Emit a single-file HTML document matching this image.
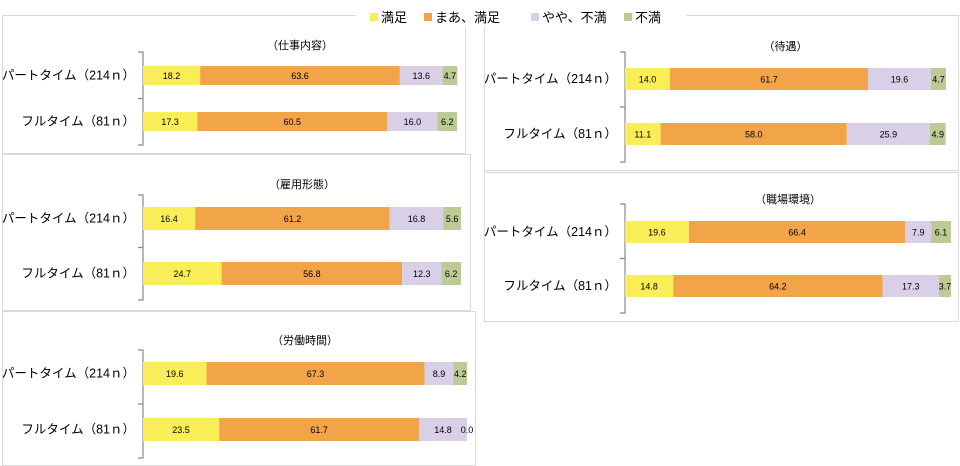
<!DOCTYPE html>
<html><head><meta charset="utf-8"><style>
body{margin:0;background:#fff;width:960px;height:466px;overflow:hidden;font-family:"Liberation Sans","Noto Sans CJK JP",sans-serif;}
svg{position:absolute;left:0;top:0}
</style></head><body>
<svg id="chart" width="960" height="466"></svg>
<script>
const categories=["パートタイム（214ｎ）","フルタイム（81ｎ）"];
const seriesNames=["満足","まあ、満足","やや、不満","不満"];
const colors=["#f9ee58","#f2a548","#d9cfe6","#bccb96"];
const titles=["（仕事内容）","（待遇）","（雇用形態）","（職場環境）","（労働時間）"];
const vSigoto=[[18.2,63.6,13.6,4.7],[17.3,60.5,16.0,6.2]];
const vTaigu=[[14.0,61.7,19.6,4.7],[11.1,58.0,25.9,4.9]];
const vKoyou=[[16.4,61.2,16.8,5.6],[24.7,56.8,12.3,6.2]];
const vShokuba=[[19.6,66.4,7.9,6.1],[14.8,64.2,17.3,3.7]];
const vRoudou=[[19.6,67.3,8.9,4.2],[23.5,61.7,14.8,0.0]];
const datasets=[vSigoto,vTaigu,vKoyou,vShokuba,vRoudou];
// layout (not data)
const panels=[
 {x:2,y:15,w:463,h:138,ax:143,aw:314,ty:45,by:[66,112],bh:19,at:52,ab:145},
 {x:484,y:15,w:474,h:155,ax:625,aw:321,ty:46,by:[68,123],bh:22,at:52,ab:162},
 {x:2,y:154,w:468,h:156,ax:143,aw:318,ty:184,by:[207,262],bh:23,at:195,ab:300},
 {x:484,y:172,w:474,h:149,ax:625,aw:326,ty:199,by:[221,275],bh:22,at:204,ab:313},
 {x:2,y:311,w:473,h:154,ax:143,aw:324,ty:340,by:[362,418],bh:23,at:350,ab:458}
];
const svg=document.getElementById('chart');
const NS="http://www.w3.org/2000/svg";
function mk(t,a,p){const e=document.createElementNS(NS,t);for(const k in a)e.setAttribute(k,a[k]);(p||svg).appendChild(e);return e;}
panels.forEach((p,i)=>{
 const g=mk('g',{});
 
 
 const r=mk('rect',{x:p.x+0.5,y:p.y+0.5,width:p.w,height:p.h,fill:'#fff',stroke:'#d9d9d9'},g);
 
 
 const t=mk('text',{x:p.ax+p.aw/2,y:p.ty+4,'font-size':11,'text-anchor':'middle',fill:'#000'},g);
 t.textContent=titles[i];
 
 
 const axis=mk('path',{d:`M${p.ax-5} ${p.at}H${p.ax}V${p.ab}H${p.ax-5}M${p.ax-5} ${(p.at+p.ab)/2}H${p.ax}`,stroke:'#888',fill:'none','stroke-width':1.2},g);
 
 
 const sc=v=>v/100*p.aw;
 datasets[i].forEach((row,ri)=>{
  const y=p.by[ri];
  const lab=mk('text',{x:p.ax-8,y:y+p.bh/2+4,'font-size':12.5,'text-anchor':'end',fill:'#000'},g);
  lab.textContent=categories[ri];
  
  
  let cx=p.ax;
  row.forEach((v,si)=>{
   const w=sc(v);
   const b=mk('rect',{x:cx,y:y,width:Math.max(w,0),height:p.bh,fill:colors[si]},g);
   
   
   const tv=mk('text',{x:cx+w/2,y:y+p.bh/2+3.5,'font-size':9,'text-anchor':'middle',fill:'#000'},g);
   tv.textContent=v.toFixed(1);
   
   
   cx+=w;
  });
 });
});
// legend
const lx=[370,424,531,624];
const lg=mk('g',{});


mk('rect',{x:356,y:5,width:330,height:22,fill:'#fff'},lg);
seriesNames.forEach((n,i)=>{
 const s=mk('rect',{x:lx[i],y:13,width:8,height:8,fill:colors[i]},lg);
 
 
 const t=mk('text',{x:lx[i]+11,y:22,'font-size':13,fill:'#000'},lg);
 t.textContent=n;
 
 
});
</script>
</body></html>
